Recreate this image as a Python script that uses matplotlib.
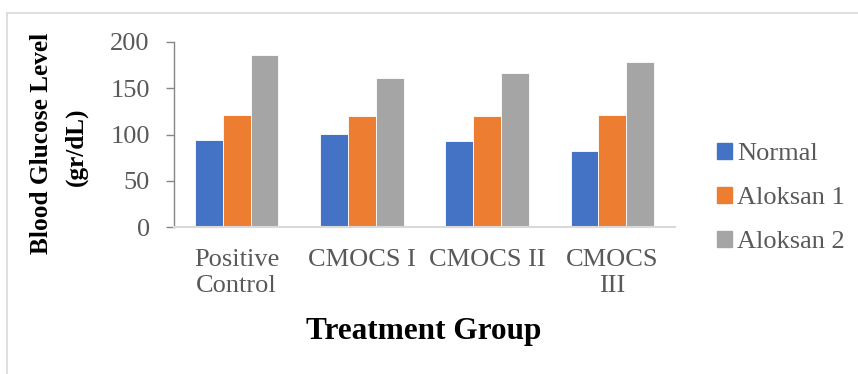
import matplotlib
matplotlib.use("Agg")
import matplotlib.pyplot as plt
from matplotlib.lines import Line2D
from matplotlib.patches import Rectangle
import numpy as np

categories = ["Positive\nControl", "CMOCS I", "CMOCS II", "CMOCS\nIII"]
series_names = ["Normal", "Aloksan 1", "Aloksan 2"]
normal = [94.5, 101, 93.5, 82]
aloksan1 = [121, 120, 120, 121.5]
aloksan2 = [185.5, 161.5, 166.5, 178]
yticks = [0, 50, 100, 150, 200]
colors = ["#4472C4", "#ED7D31", "#A5A5A5"]

plt.rcParams['font.family'] = ['Liberation Serif', 'DejaVu Serif']

W, H = 858, 374
fig = plt.figure(figsize=(W / 100, H / 100), dpi=100)

# outer chart frame
fig.add_artist(Line2D([7 / W, 1], [1 - 13 / H, 1 - 13 / H], color="#d9d9d9", lw=1.2, transform=fig.transFigure))
fig.add_artist(Line2D([7 / W, 7 / W], [0, 1 - 13 / H], color="#d9d9d9", lw=1.2, transform=fig.transFigure))

ax = fig.add_axes([174 / W, 1 - 227 / H, (675 - 174) / W, (227 - 42) / H])

x = np.arange(len(categories))
bw = 0.222
for i, (vals, name) in enumerate(zip([normal, aloksan1, aloksan2], series_names)):
    ax.bar(x + (i - 1) * bw, vals, width=bw, color=colors[i], label=name,
           edgecolor="white", linewidth=0.6)

ax.set_xlim(-0.5, len(categories) - 0.5)
ax.set_ylim(0, 200)
ax.set_yticks(yticks)
ax.set_xticks(x)
ax.set_xticklabels(categories, fontsize=19, color="#595959", linespacing=1.2)
ax.tick_params(axis="x", length=0, pad=16)
ax.tick_params(axis="y", length=5.5, width=1, color="#868686", labelsize=19,
               labelcolor="#595959", pad=12)
for lab in ax.get_yticklabels():
    lab.set_color("#595959")

for s in ["top", "right"]:
    ax.spines[s].set_visible(False)
ax.spines["left"].set_color("#868686")
ax.spines["left"].set_linewidth(1)
ax.spines["bottom"].set_color("#d9d9d9")
ax.spines["bottom"].set_linewidth(1.5)

# axis titles
fig.text(42 / W, 1 - 143 / H, "Blood Glucose Level", rotation=90, ha="center", va="center",
         fontsize=18.2, fontweight="bold", color="black")
fig.text(76 / W, 1 - 147 / H, "(gr/dL)", rotation=90, ha="center", va="center",
         fontsize=18.2, fontweight="bold", color="black")
fig.text(424 / W, 1 - 331 / H, "Treatment Group", ha="center", va="center",
         fontsize=22.5, fontweight="bold", color="black")

# legend
handles = [Rectangle((0, 0), 1, 1, color=c) for c in colors]
leg = fig.legend(handles, series_names, loc="center left", bbox_to_anchor=(717 / W, 1 - 198 / H),
                 frameon=False, fontsize=19, handlelength=0.55, handleheight=0.55,
                 handletextpad=0.2, labelspacing=0.82, labelcolor="#595959",
                 borderaxespad=0, borderpad=0)

fig.savefig("out.png", dpi=100)
